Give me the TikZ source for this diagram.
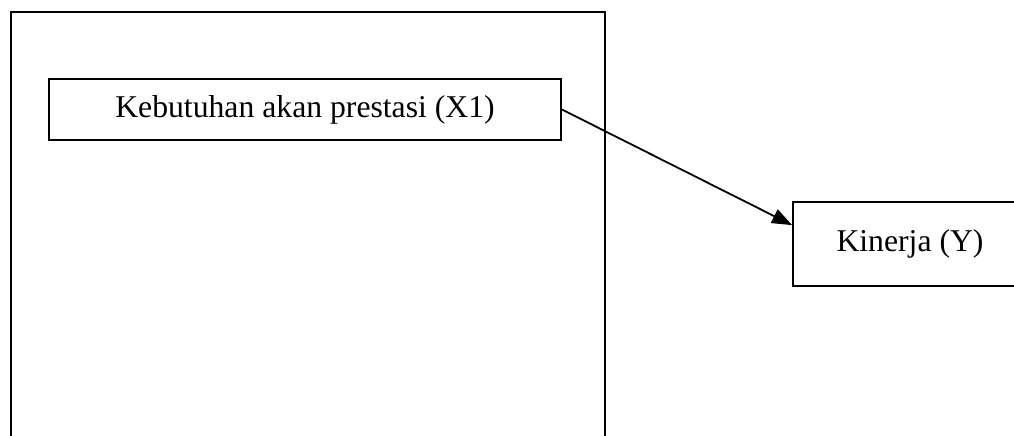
\documentclass[tikz,border=0pt]{standalone}
\usepackage{fontspec}
\setmainfont{Liberation Serif}
\usetikzlibrary{arrows.meta,calc}
\begin{document}
\begin{tikzpicture}[x=1pt,y=-1pt,
  box/.style={draw,line width=1.8pt,inner sep=0pt,font=\fontsize{31.7}{38}\selectfont},
  conn/.style={line width=1.8pt,-{Triangle[length=20pt,width=15pt]}}]
\useasboundingbox (0,0) rectangle (1014,436);
\clip (0,0) rectangle (1014,436);
\coordinate (bl) at (11,450);
\coordinate (tl) at (11,12);
\coordinate (tr) at (605,12);
\coordinate (br) at (605,450);
\draw[line width=1.8pt] (bl) -- (tl) -- (tr) -- (br);
\node[box,minimum width=512pt,minimum height=61pt] (x1) at (305,109.5) {Kebutuhan akan prestasi (X1)};
\node[box,minimum width=234pt,minimum height=84pt] (y) at (910,244) {Kinerja (Y)};
\coordinate (yin) at ($(y.north west)!0.28!(y.south west)$);
\draw[conn] (x1.east) -- (yin);
\end{tikzpicture}
\end{document}
